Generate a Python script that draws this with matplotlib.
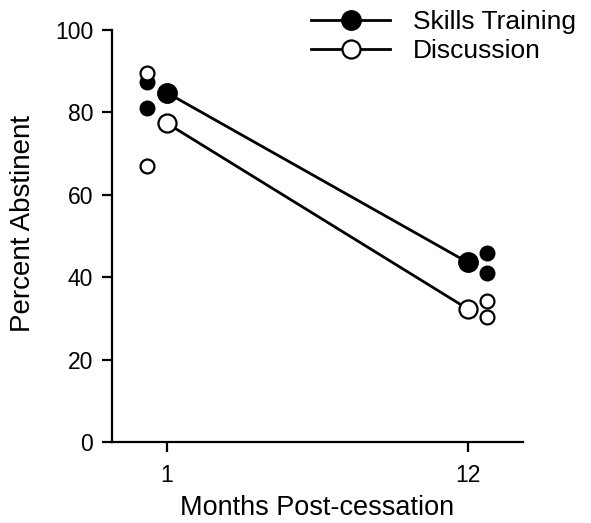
#!/usr/bin/env python3
# percent abstinent at 1 and 12 months post-cessation, two treatment groups
import numpy as np
import matplotlib
matplotlib.use('Agg')
import matplotlib.pyplot as plt

plt.rcParams['font.family'] = ['Liberation Sans', 'DejaVu Sans']

#------------------------------------------
# data
months      = [1, 12]
skillsMean  = [84.8, 43.6]   # Skills Training, group mean
discMean    = [77.4, 32.3]   # Discussion, group mean
skillsInd1  = [87.5, 81.0]   # individual study values, month 1
skillsInd12 = [45.9, 41.1]   # individual study values, month 12
discInd1    = [89.5, 67.0]
discInd12   = [34.2, 30.3]
yTicks      = [0, 20, 40, 60, 80, 100]

#------------------------------------------
fig = plt.figure(figsize=(5.91, 5.23), dpi=100)
ax  = fig.add_axes([0.1895, 0.1549, 0.6946, 0.7877])

dx = 0.72 # horizontal shift of single values beside the mean
ax.plot(months, skillsMean, '-o', color='black', lw=2, ms=13.5, mfc='black', mec='black', mew=1.5,
        label='Skills Training', zorder=3)
ax.plot(months, discMean, '-o', color='black', lw=2, ms=13, mfc='white', mec='black', mew=1.6,
        label='Discussion', zorder=3)
ax.plot([months[0]-dx]*2, skillsInd1, 'o', ms=10, mfc='black', mec='black', mew=1.5, zorder=4)
ax.plot([months[0]-dx]*2, discInd1, 'o', ms=10, mfc='white', mec='black', mew=1.6, zorder=5)
ax.plot([months[1]+dx]*2, skillsInd12, 'o', ms=10, mfc='black', mec='black', mew=1.5, zorder=4)
ax.plot([months[1]+dx]*2, discInd12, 'o', ms=10, mfc='white', mec='black', mew=1.6, zorder=4)

ax.set_xlim(-1, 14)
ax.set_ylim(0, 100)
ax.set_xticks(months)
ax.set_yticks(yTicks)
ax.spines['top'].set_visible(False)
ax.spines['right'].set_visible(False)
for s in ['left', 'bottom']:
    ax.spines[s].set_linewidth(1.6)
ax.tick_params(direction='out', length=7.5, width=1.6, labelsize=16.5, pad=6)
ax.tick_params(axis='x', pad=8)
ax.set_xlabel('Months Post-cessation', fontsize=19.5, labelpad=6)
ax.set_ylabel('Percent Abstinent', fontsize=20, labelpad=14, y=0.53)

leg = ax.legend(loc='upper left', bbox_to_anchor=(311/591, 1-10/523), bbox_transform=fig.transFigure,
                frameon=False, fontsize=19, handlelength=3.0, handletextpad=0.85, labelspacing=0.2,
                borderpad=0, borderaxespad=0)

fig.savefig('out.png', dpi=100)
